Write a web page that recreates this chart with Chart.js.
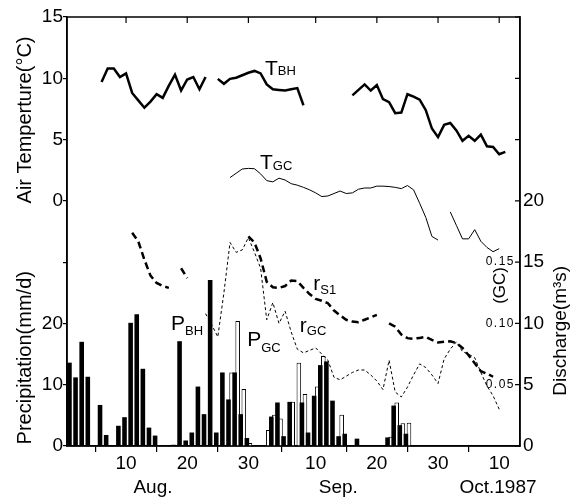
<!DOCTYPE html>
<html>
<head>
<meta charset="utf-8">
<script src="https://cdn.jsdelivr.net/npm/chart.js@4.4.1/dist/chart.umd.min.js"></script>
<style>
  html, body { margin: 0; padding: 0; background: #fff; }
  #chart { display: block; }
</style>
</head>
<body>
<canvas id="chart" width="571" height="497"></canvas>
<script>
// day numbers count from 1 Aug 1987 (1 Sep = 32, 1 Oct = 62)
const tickDays = [10, 20, 30, 41, 51, 61, 71];
const tickLabels = ['10', '20', '30', '10', '20', '30', '10'];
const monthLabels = ['Aug.', 'Sep.', 'Oct.1987'];
const monthDays = [14.4, 44.7, 70.8];

// left axis: air temperature on top, precipitation (mm/d) below
const leftTicks = [15, 10, 5, 0, -5, -10, -15, -20];
const leftTickLabels = ['15', '10', '5', '0', '', '20', '10', '0'];
// right axis: discharge (m3/s), inner scale for GC
const rightTicks = [0, 5, 10, 15, 20, 25, 30, 35];
const rightTickLabels = ['0', '5', '10', '15', '20', '', '', ''];
const gcTicks = [0.15, 0.10, 0.05];
const gcTickLabels = ['0.15', '0.10', '0.05'];

// air temperature at BH (degC), from 6 Aug
const tBHStart = 6;
const tBH = [9.7, 10.8, 10.8, 10.1, 10.4, 8.8, 8.2, 7.6, 8.1, 8.7, 8.4, 9.4, 10.3, 9.0, 9.9, 10.1, 9.1, 10.1,
  null,
  9.95, 9.55, 9.95, 10.05, 10.25, 10.45, 10.6, 10.4, 9.5, 9.1, 9.05, 9.0, 9.1, 9.2, 7.8,
  null, null, null, null, null, null, null,
  8.6, 9.05, 9.5, 9.0, 9.45, 8.3, 8.05, 7.15, 7.2, 8.7, 8.5, 8.25, 7.4, 5.9, 5.2, 6.2, 6.35, 5.75, 4.9, 5.3,
  4.9, 5.4, 4.45, 4.4, 3.8, 4.0];

// air temperature at GC (degC), from 27 Aug
const tGCStart = 27;
const tGC = [1.9, 2.25, 2.6, 2.65, 2.62, 2.2, 1.65, 1.55, 1.85, 1.7, 1.4, 1.28, 1.1, 0.9, 0.65, 0.35, 0.4, 0.6,
  0.8, 0.6, 0.65, 0.95, 1.05, 1.05, 1.2, 1.2, 1.17, 1.1, 1.0, 1.25, 0.9, -0.2, -1.35, -2.9, -3.2,
  null,
  -0.9, -2.0, -3.1, -3.1, -2.35, -3.3, -3.8, -4.15, -3.9];

// discharge at S1 (m3/s), from 11 Aug
const rS1Start = 11;
const rS1 = [17.4, 16.7, 15.2, 13.9, 13.3, 13.05, 12.9, null, 14.5, 13.7,
  null, null, null, null, null, null, null, null, null,
  17.1, 16.6, 15.3, 13.4, 12.95, 12.9, 13.05, 13.5, 13.45, 12.9, 12.4, 12.0, 11.85, 11.65, 11.05, 10.65,
  10.3, 10.15, 10.1, 10.3, 10.5, 10.7,
  null,
  10.0, 9.73, 9.1, 8.8, 8.75, 8.82, 8.9, 8.65, 8.45, 8.5, 8.55, 8.4, 8.0, 7.4, 6.75, 6.1, 5.9, 5.65];

// discharge at GC (m3/s), from 23 Aug
const rGCStart = 23;
const rGC = [0.108, 0.099, 0.089, 0.125, 0.166, 0.158, 0.160, 0.170, 0.158, 0.145, 0.103, 0.117, 0.100, 0.110,
  0.093, 0.079, 0.076, 0.078, 0.080, 0.075, 0.070, 0.056, 0.054, 0.057, 0.060, 0.062, 0.062, 0.058, 0.053,
  0.046, 0.070, 0.044, 0.040, 0.048, 0.058, 0.067, 0.064, 0.058, 0.051, 0.071, 0.079, 0.085, 0.077, 0.075,
  0.072, 0.060, 0.049, 0.041, 0.030];

// daily precipitation (mm/d)
const pBHStart = 1;
const pBH = [13.6, 11.2, 17.0, 11.3, null, 6.7, 1.8, null, 3.3, 4.7, 20.1, 21.5, 12.6, 3.0, 1.7, null, null,
  0.2, 17.1, 0.9, 2.2, 9.7, 5.2, 27.1, 2.2, 12.0, 7.6, 12.0, 5.2, 1.3, null, null, null, 4.8, 7.1, 1.6,
  7.2, null, 7.1, 2.2, 8.2, 13.2, 13.8, 7.4, 1.6, 2.0, null, 1.2, null, null, null, null, 1.4, 6.6, 3.4, 2.0];
const pGCStart = 27;
const pGC = [12.0, 20.4, 9.3, 0.5, null, null, 2.6, 5.1, 4.5, null, 7.2, 13.6, 8.5, null, 9.7, 14.7, null,
  null, 5.1, null, null, null, null, null, null, null, 1.5, 7.1, 3.7, 3.8];

const seriesLabels = [
  { main: 'T', sub: 'BH', day: 32.7, value: 10.3, axis: 'yT', drop: 0 },
  { main: 'T', sub: 'GC', day: 31.9, value: 2.6, axis: 'yT', drop: 1 },
  { main: 'r', sub: 'S1', day: 40.6, value: 12.7, axis: 'yQ', drop: 4 },
  { main: 'r', sub: 'GC', day: 38.4, value: 9.3, axis: 'yQ', drop: 3 },
  { main: 'P', sub: 'BH', day: 17.35, value: 18.9, axis: 'yP', drop: 5 },
  { main: 'P', sub: 'GC', day: 29.8, value: 16.3, axis: 'yP', drop: 6 }
];

const FONT = 'Liberation Sans, Arial, Helvetica, sans-serif';
Chart.defaults.font.family = FONT;
Chart.defaults.color = '#000';

function points(start, values) {
  return values.map((v, i) => ({ x: start + i, y: v }));
}

function drawRotated(ctx, text, x, y, size) {
  ctx.save();
  ctx.translate(x, y);
  ctx.rotate(-Math.PI / 2);
  ctx.font = `${size}px ${FONT}`;
  ctx.textAlign = 'center';
  ctx.textBaseline = 'middle';
  ctx.fillText(text, 0, 0);
  ctx.restore();
}

const decorations = {
  id: 'decorations',
  afterDraw(chart) {
    const { ctx, chartArea: a, scales } = chart;
    ctx.save();
    ctx.strokeStyle = '#000';
    ctx.fillStyle = '#000';
    ctx.lineWidth = 1.5;
    ctx.strokeRect(a.left, a.top, a.right - a.left, a.bottom - a.top);

    // inward ticks on top and right
    ctx.lineWidth = 1.2;
    ctx.beginPath();
    tickDays.forEach((d) => {
      const x = scales.x.getPixelForValue(d);
      ctx.moveTo(x, a.top);
      ctx.lineTo(x, a.top + 6);
    });
    rightTicks.forEach((v) => {
      const y = scales.yQ.getPixelForValue(v);
      ctx.moveTo(a.right, y);
      ctx.lineTo(a.right - 5, y);
    });
    ctx.stroke();

    // GC inner scale
    ctx.font = `12px ${FONT}`;
    ctx.letterSpacing = '1.5px';
    ctx.textAlign = 'right';
    ctx.textBaseline = 'middle';
    gcTicks.forEach((v, i) => {
      ctx.fillText(gcTickLabels[i], a.right - 5, scales.yGC.getPixelForValue(v));
    });
    ctx.letterSpacing = '0px';

    // axis titles
    drawRotated(ctx, 'Air Temperture(°C)', 25, scales.yT.getPixelForValue(6.6), 20);
    drawRotated(ctx, 'Precipitation(mm/d)', 25, scales.yP.getPixelForValue(14.4), 20);
    drawRotated(ctx, 'Discharge(m³s)', 561, scales.yQ.getPixelForValue(9.4), 19);
    drawRotated(ctx, '(GC)', 500, scales.yGC.getPixelForValue(0.131), 17);

    // months
    ctx.font = `19px ${FONT}`;
    ctx.textAlign = 'center';
    ctx.textBaseline = 'alphabetic';
    monthLabels.forEach((m, i) => {
      ctx.fillText(m, scales.x.getPixelForValue(monthDays[i]), 493);
    });

    // series names
    ctx.textAlign = 'left';
    seriesLabels.forEach((l) => {
      const x = scales.x.getPixelForValue(l.day);
      const y = scales[l.axis].getPixelForValue(l.value);
      ctx.font = `21px ${FONT}`;
      ctx.fillText(l.main, x, y);
      const w = ctx.measureText(l.main).width;
      ctx.font = `13px ${FONT}`;
      ctx.fillText(l.sub, x + w, y + l.drop);
    });
    ctx.restore();
  }
};

new Chart(document.getElementById('chart'), {
  type: 'bar',
  data: {
    datasets: [
      { type: 'line', label: 'T_BH', data: points(tBHStart, tBH), yAxisID: 'yT', borderColor: '#000', borderWidth: 2.5, pointRadius: 0, tension: 0, order: 0 },
      { type: 'line', label: 'T_GC', data: points(tGCStart, tGC), yAxisID: 'yT', borderColor: '#000', borderWidth: 1, pointRadius: 0, tension: 0, order: 0 },
      { type: 'line', label: 'r_S1', data: points(rS1Start, rS1), yAxisID: 'yQ', borderColor: '#000', borderWidth: 2.5, borderDash: [7, 4], pointRadius: 0, tension: 0, order: 0 },
      { type: 'line', label: 'r_GC', data: points(rGCStart, rGC), yAxisID: 'yGC', borderColor: '#000', borderWidth: 1, borderDash: [3, 2.5], pointRadius: 0, tension: 0, order: 0 },
      { label: 'P_BH', data: points(pBHStart, pBH), yAxisID: 'yP', backgroundColor: '#000', borderWidth: 0, order: 1 },
      { label: 'P_GC', data: points(pGCStart, pGC), yAxisID: 'yP', backgroundColor: '#fff', borderColor: '#000', borderWidth: 1, order: 2 }
    ]
  },
  options: {
    responsive: false,
    animation: false,
    events: [],
    layout: { padding: { top: 17, left: 0, right: 0, bottom: 0 } },
    datasets: { bar: { categoryPercentage: 1, barPercentage: 1.5 } },
    plugins: { legend: { display: false }, tooltip: { enabled: false } },
    scales: {
      x: {
        type: 'linear', min: 0.35, max: 74.4, offset: false,
        afterBuildTicks: (s) => { s.ticks = tickDays.map((value) => ({ value })); },
        afterFit: (s) => { s.height = 51; },
        grid: { drawOnChartArea: false, tickLength: 6, color: '#000', lineWidth: 1.2 },
        border: { color: '#000', width: 1.5 },
        ticks: { callback: (v, i) => tickLabels[i], font: { size: 19 }, padding: 0, maxRotation: 0, autoSkip: false }
      },
      yT: {
        position: 'left', min: -20, max: 15,
        afterBuildTicks: (s) => { s.ticks = leftTicks.map((value) => ({ value })); },
        afterFit: (s) => { s.width = 67; },
        grid: { drawOnChartArea: false, tickLength: 4, color: '#000', lineWidth: 1.2 },
        border: { color: '#000', width: 1.5 },
        ticks: { callback: (v, i) => leftTickLabels[i], font: { size: 19 }, padding: 0, autoSkip: false }
      },
      yQ: {
        position: 'right', min: 0, max: 35,
        afterBuildTicks: (s) => { s.ticks = rightTicks.map((value) => ({ value })); },
        afterFit: (s) => { s.width = 51; },
        grid: { drawOnChartArea: false, drawTicks: false },
        border: { color: '#000', width: 1.5 },
        ticks: { callback: (v, i) => rightTickLabels[i], font: { size: 19 }, padding: 3, autoSkip: false }
      },
      yP: { display: false, min: 0, max: 70 },
      yGC: { display: false, min: 0, max: 0.35 }
    }
  },
  plugins: [decorations]
});
</script>
</body>
</html>
